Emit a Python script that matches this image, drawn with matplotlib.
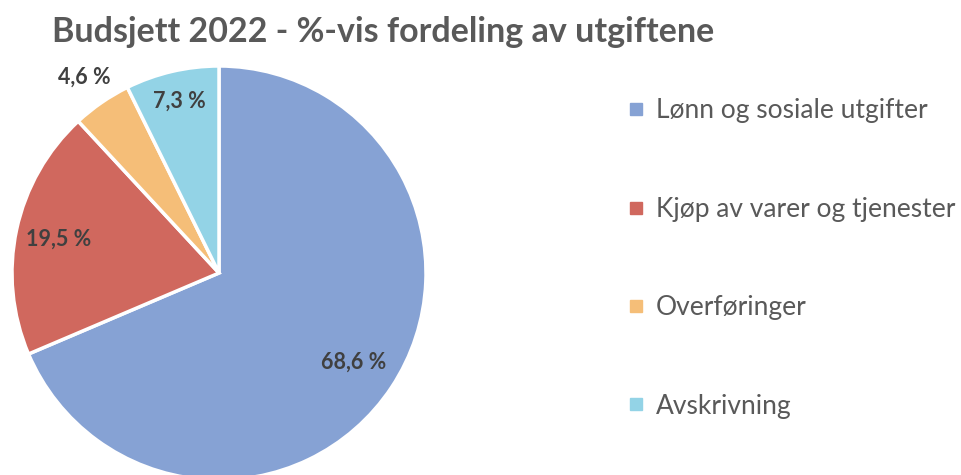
import matplotlib.pyplot as plt
import numpy as np
from matplotlib.lines import Line2D

plt.rcParams['font.family'] = ['Lato', 'DejaVu Sans']

categories = ["Lønn og sosiale utgifter", "Kjøp av varer og tjenester", "Overføringer", "Avskrivning"]
shares = [68.6, 19.5, 4.6, 7.3]
labels = ["68,6 %", "19,5 %", "4,6 %", "7,3 %"]
colors = ["#86A2D4", "#D0685E", "#F5BE78", "#93D3E6"]
label_dist = [0.78, 0.79, 1.15, 0.85]

fig = plt.figure(figsize=(9.62, 4.75), dpi=100)

# pie axes: centre ~ (219, 273) px, radius ~207 px
cx, cy, r = 219, 273, 207
ax = fig.add_axes([(cx - r) / 962, (475 - cy - r) / 475, 2 * r / 962, 2 * r / 475])
wedges, _ = ax.pie(shares, colors=colors, startangle=90, counterclock=False,
                   wedgeprops=dict(edgecolor="white", linewidth=2.5))
ax.set_xlim(-1, 1)
ax.set_ylim(-1, 1)
ax.axis("off")

for w, lab, d in zip(wedges, labels, label_dist):
    ang = np.deg2rad((w.theta1 + w.theta2) / 2)
    ax.text(d * np.cos(ang), d * np.sin(ang), lab, ha="center", va="center",
            fontsize=15.5, fontweight="bold", color="#404040")

fig.text(0.054, 0.932, "Budsjett 2022 - %-vis fordeling av utgiftene",
         fontsize=24.5, fontweight="bold", color="#595959", va="center")

handles = [Line2D([], [], marker="s", linestyle="none", markersize=8,
                  markerfacecolor=c, markeredgecolor=c) for c in colors]
fig.legend(handles, categories, loc="upper left", bbox_to_anchor=(0.642, 0.815),
           frameon=False, fontsize=19, labelcolor="#595959", labelspacing=2.78,
           handlelength=0.6, handletextpad=0.45, borderaxespad=0)

fig.savefig("out.png", dpi=100)
